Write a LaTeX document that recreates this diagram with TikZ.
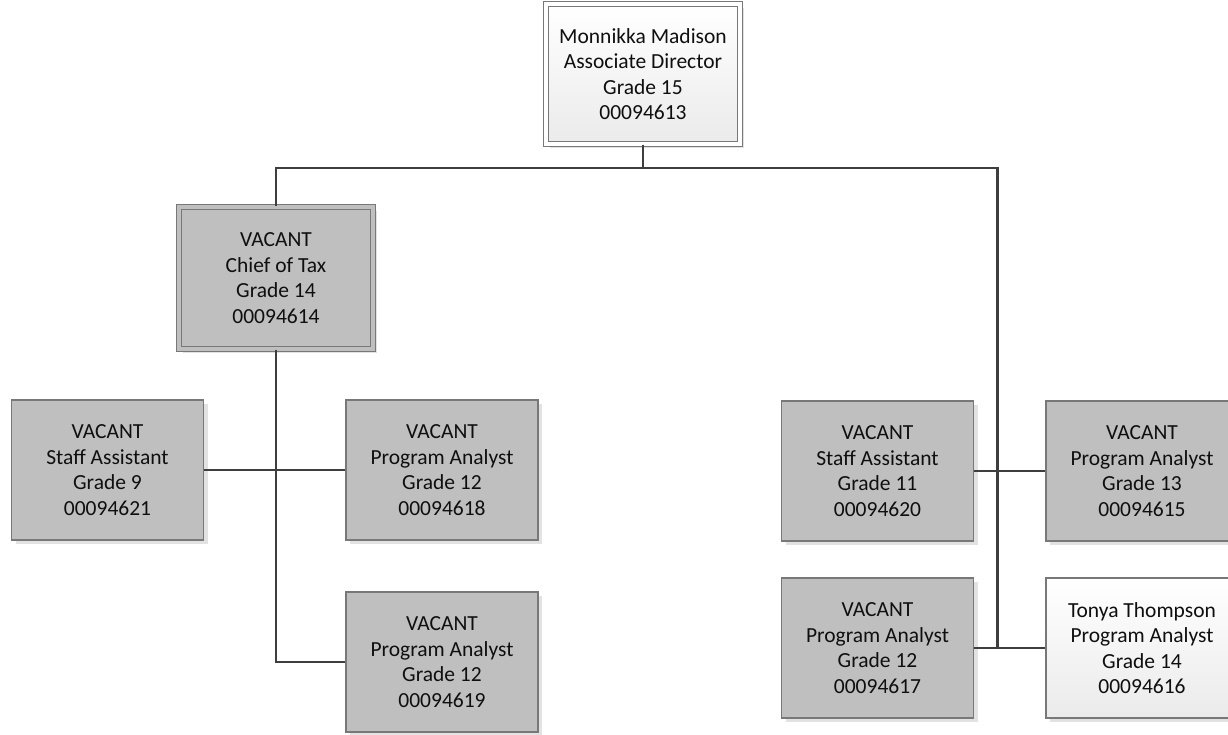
\documentclass[tikz,border=0pt]{standalone}
\usepackage{fontspec}
\setmainfont{Carlito}
\usetikzlibrary{shadows}
\definecolor{boxgray}{RGB}{191,191,191}
\definecolor{edgecol}{RGB}{120,120,120}
\definecolor{conncol}{RGB}{62,62,62}
\definecolor{shadowcol}{RGB}{226,226,226}
\definecolor{textcol}{RGB}{15,15,15}
\begin{document}
\begin{tikzpicture}[x=1pt,y=-1pt,
  orgbox/.style={rectangle, draw=edgecol, line width=1.1pt, minimum width=192pt, minimum height=140pt,
    align=center, font=\fontsize{21.5}{25.5}\selectfont, text=textcol, inner sep=0pt,
    drop shadow={shadow xshift=4pt, shadow yshift=-4pt, fill=shadowcol, opacity=1}},
  vacant/.style={orgbox, fill=boxgray},
  lightbox/.style={orgbox, top color=white, bottom color=black!8},
  dblbox/.style={double distance=4pt, minimum width=194pt},
  conn/.style={draw=conncol, line width=2.8pt}]
\useasboundingbox (0,0) rectangle (1228,735);
\clip (0,0) rectangle (1228,735);
\fill[white] (0,0) rectangle (1228,735);

\node[lightbox, dblbox, double=white] (top) at (643,74) {Monnikka Madison\\Associate Director\\Grade 15\\00094613};
\node[vacant, dblbox, double=boxgray, minimum height=142pt] (chief) at (276,278) {VACANT\\Chief of Tax\\Grade 14\\00094614};
\node[vacant] (sa9) at (107.5,470) {VACANT\\Staff Assistant\\Grade 9\\00094621};
\node[vacant] (pa18) at (442,470) {VACANT\\Program Analyst\\Grade 12\\00094618};
\node[vacant] (pa19) at (442,662) {VACANT\\Program Analyst\\Grade 12\\00094619};
\node[vacant] (sa11) at (877.5,471) {VACANT\\Staff Assistant\\Grade 11\\00094620};
\node[vacant] (pa15) at (1142,471) {VACANT\\Program Analyst\\Grade 13\\00094615};
\node[vacant] (pa17) at (877.5,648) {VACANT\\Program Analyst\\Grade 12\\00094617};
\node[lightbox] (tonya) at (1142,648) {Tonya Thompson\\Program Analyst\\Grade 14\\00094616};

\coordinate (jl) at (276,168);
\coordinate (jr) at (997.5,168);
\coordinate (jb) at (997.5,648);

\draw[conn] (top.south) -- (top.south |- jl);
\draw[conn] (chief.north) |- (jr) -- (jb);
\draw[conn] (chief.south) |- (pa19.west);
\draw[conn] (sa9.east) -- (pa18.west);
\draw[conn] (sa11.east) -- (pa15.west);
\draw[conn] (pa17.east) -- (tonya.west);
\end{tikzpicture}
\end{document}
